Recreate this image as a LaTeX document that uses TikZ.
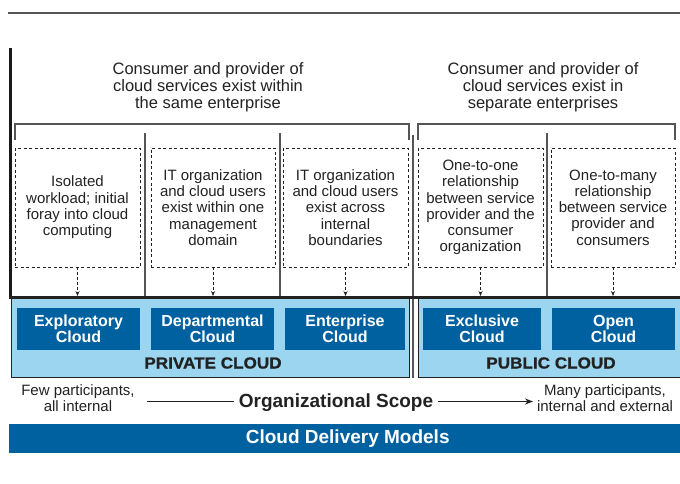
\documentclass[tikz,border=0pt]{standalone}
\usepackage{fontspec}
\setmainfont{Liberation Sans}
\usetikzlibrary{arrows.meta}
\definecolor{dblue}{HTML}{0061A0}
\definecolor{lblue}{HTML}{9BD5F0}
\definecolor{lgray}{HTML}{555555}
\definecolor{txt}{HTML}{222222}
\begin{document}
\begin{tikzpicture}[x=1pt,y=-1pt,
  header/.style={align=center,font=\fontsize{16.5}{16.8}\selectfont,text=txt},
  dbox/.style={draw=txt,dashed,dash pattern=on 3pt off 2.5pt,line width=0.8pt,align=center,
    font=\fontsize{15}{16.3}\selectfont,text=txt,inner sep=0pt,minimum height=119},
  cloudbox/.style={fill=dblue,text=white,align=center,inner sep=0pt,minimum height=42,
    font=\bfseries\fontsize{16}{16.5}\selectfont},
  regionbox/.style={fill=lblue,draw=txt,line width=0.8pt},
  sep/.style={draw=lgray,line width=1.2pt},
  darrow/.style={draw=txt,dashed,dash pattern=on 3pt off 2pt,line width=0.9pt,-{Stealth[length=5pt,width=4pt]}},
  note/.style={align=center,font=\fontsize{15}{16.5}\selectfont,text=txt},
  regionlabel/.style={font=\bfseries\fontsize{16}{18}\selectfont,text=txt}
]
\useasboundingbox (0,0) rectangle (680,483);
% top rule
\coordinate (tl) at (8,13);
\coordinate (tr) at (680,13);
\draw[draw=lgray,line width=2pt] (tl) -- (tr);

% headers
\node[header] (h1) at (208,87) {Consumer and provider of\\cloud services exist within\\the same enterprise};
\node[header] (h2) at (543,87) {Consumer and provider of\\cloud services exist in\\separate enterprises};

% brackets
\coordinate (b1a) at (15,140); \coordinate (b1b) at (15,124);
\coordinate (b1c) at (409,124); \coordinate (b1d) at (409,140);
\draw[sep] (b1a) -- (b1b) -- (b1c) -- (b1d);
\coordinate (b2a) at (418,140); \coordinate (b2b) at (418,124);
\coordinate (b2c) at (675,124); \coordinate (b2d) at (675,140);
\draw[sep] (b2a) -- (b2b) -- (b2c) -- (b2d);

% region boxes
\node[regionbox,minimum width=398,minimum height=79,anchor=north west,inner sep=0pt] (priv) at (10.5,298) {};
\node[regionbox,minimum width=270,minimum height=79,anchor=north west,inner sep=0pt] (pub) at (417.5,298) {};

% separators
\coordinate (s1t) at (145,133); \coordinate (s1b) at (145,297);
\coordinate (s2t) at (280,133); \coordinate (s2b) at (280,297);
\coordinate (s3t) at (413,135); \coordinate (s3b) at (413,378);
\coordinate (s4t) at (547,133); \coordinate (s4b) at (547,297);
\draw[sep] (s1t) -- (s1b);
\draw[sep] (s2t) -- (s2b);
\draw[sep] (s3t) -- (s3b);
\draw[sep] (s4t) -- (s4b);

% thick lines
\coordinate (vt) at (10.5,48); \coordinate (vb) at (10.5,298);
\coordinate (hl) at (9,297); \coordinate (hr) at (680,297);
\draw[draw=black!90,line width=3pt] (vt) -- (vb);
\draw[draw=txt,line width=3pt] (hl) -- (hr);

% dashed boxes
\node[dbox,minimum width=125] (d1) at (77.5,207.5) {Isolated\\workload; initial\\foray into cloud\\computing};
\node[dbox,minimum width=124] (d2) at (213,207.5) {IT organization\\and cloud users\\exist within one\\management\\domain};
\node[dbox,minimum width=125] (d3) at (345.5,207.5) {IT organization\\and cloud users\\exist across\\internal\\boundaries};
\node[dbox,minimum width=125] (d4) at (480.5,207.5) {One-to-one\\relationship\\between service\\provider and the\\consumer\\organization};
\node[dbox,minimum width=124] (d5) at (613,207.5) {One-to-many\\relationship\\between service\\provider and\\consumers};

% arrow targets
\coordinate (t1) at (77.5,296);
\coordinate (t2) at (213,296);
\coordinate (t3) at (345.5,296);
\coordinate (t4) at (480.5,296);
\coordinate (t5) at (613,296);
\draw[darrow] (d1.south) -- (t1);
\draw[darrow] (d2.south) -- (t2);
\draw[darrow] (d3.south) -- (t3);
\draw[darrow] (d4.south) -- (t4);
\draw[darrow] (d5.south) -- (t5);

% cloud boxes
\node[cloudbox,minimum width=123] (c1) at (78.5,329) {Exploratory\\Cloud};
\node[cloudbox,minimum width=123] (c2) at (212.5,329) {Departmental\\Cloud};
\node[cloudbox,minimum width=120] (c3) at (345,329) {Enterprise\\Cloud};
\node[cloudbox,minimum width=118] (c4) at (482,329) {Exclusive\\Cloud};
\node[cloudbox,minimum width=123] (c5) at (613.5,329) {Open\\Cloud};

\node[regionlabel] (pl) at (213,363) {\addfontfeature{FakeStretch=1.07,FakeBold=1}PRIVATE CLOUD};
\node[regionlabel] (ul) at (551,363) {\addfontfeature{FakeStretch=1.07,FakeBold=1}PUBLIC CLOUD};

% bottom scope
\node[note] (few) at (78,398) {Few participants,\\all internal};
\node[note] (many) at (605,398) {Many participants,\\internal and external};
\node[font=\bfseries\fontsize{19}{21}\selectfont,text=txt,inner sep=5pt] (scope) at (336,402.5) {Organizational Scope};
\coordinate (sl) at (147,401.5);
\coordinate (sr) at (533,401.5);
\draw[draw=txt,line width=1.6pt] (sl) -- (scope.west |- sl);
\draw[draw=txt,line width=1.6pt,-{Stealth[length=8pt,width=6pt]}] (scope.east |- sr) -- (sr);

% bottom bar
\node[fill=dblue,minimum width=671,minimum height=29,anchor=north west,inner sep=0pt,text=white,
  font=\bfseries\fontsize{19}{21}\selectfont] (bar) at (9,424) {\hspace*{6pt}Cloud Delivery Models};
\end{tikzpicture}
\end{document}
